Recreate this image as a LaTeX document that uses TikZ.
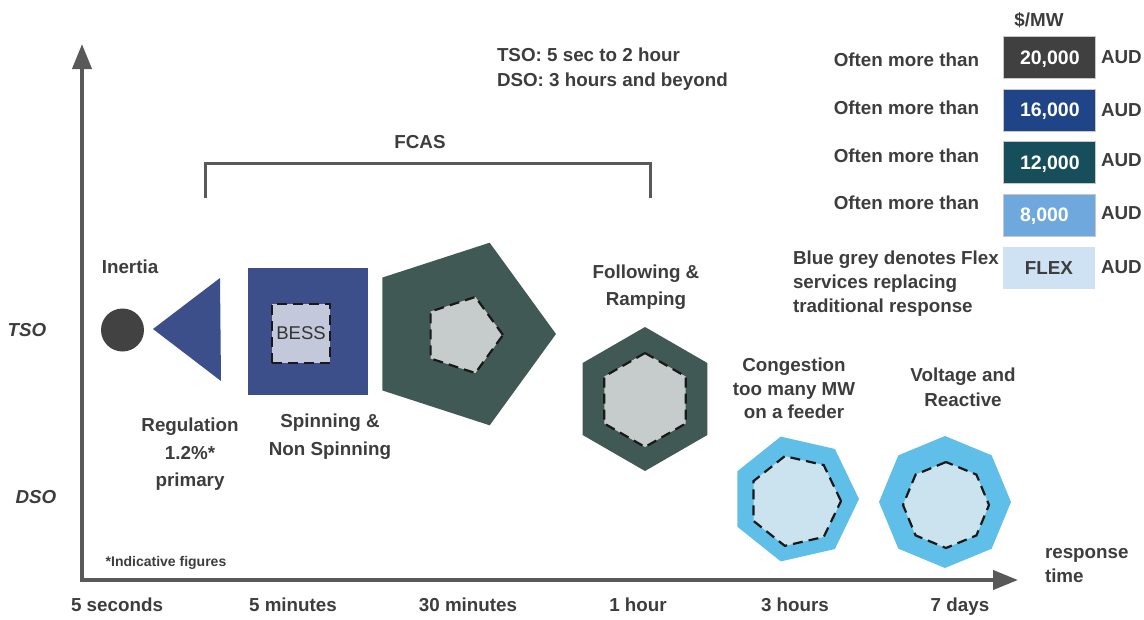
\documentclass[tikz,border=0pt]{standalone}
\usepackage{fontspec}
\setmainfont{Liberation Sans}
\usetikzlibrary{arrows.meta,shapes.geometric}

\definecolor{ink}{HTML}{3D3D3D}
\definecolor{axisgrey}{HTML}{595959}
\definecolor{inertiagrey}{HTML}{424242}
\definecolor{regblue}{HTML}{3D4F8B}
\definecolor{bessfill}{HTML}{C3C8DA}
\definecolor{fcasgreen}{HTML}{415955}
\definecolor{flexgrey}{HTML}{C5CCCB}
\definecolor{dsoblue}{HTML}{5FBFE8}
\definecolor{dsofill}{HTML}{CAE3EE}
\definecolor{priceA}{HTML}{404040}
\definecolor{priceB}{HTML}{1F4488}
\definecolor{priceC}{HTML}{164F5B}
\definecolor{priceD}{HTML}{6FA8DC}
\definecolor{priceE}{HTML}{CFE2F3}

\newcommand\dgmfont{\fontsize{18.8}{24}\selectfont\bfseries}
\newcommand\dgmfontwide{\fontsize{18.8}{27.5}\selectfont\bfseries}
\newcommand\dgmsmall{\fontsize{14}{16}\selectfont\bfseries}

\begin{document}
\begin{tikzpicture}[x=1pt,y=-1pt,
  every node/.style={inner sep=0pt, outer sep=0pt, text=ink, font=\dgmfont},
  lbl/.style={text height=13.3pt, text depth=0pt},
  multi/.style={align=center, anchor=north},
  wide/.style={align=center, anchor=north, font=\dgmfontwide},
  axisline/.style={draw=axisgrey, line width=4pt, line join=miter,
                   >={Triangle[length=25pt, width=19pt]}},
  innerdash/.style={draw=black!90, line width=2.2pt, dash pattern=on 10pt off 6pt},
  pricebox/.style={minimum width=92pt, minimum height=42pt, draw=black!22, line width=0.8pt},
  priceval/.style={lbl, anchor=west, text=white, font=\fontsize{19.5}{24}\selectfont\bfseries},
  aud/.style={lbl, anchor=west},
  often/.style={lbl, anchor=east},
]
\useasboundingbox (0,0) rectangle (1144,619);

% axes
\coordinate (origin) at (82,580);
\coordinate (ytip) at (82,44);
\coordinate (xtip) at (1018,580);
\draw[axisline, <->] (ytip) -- (origin) -- (xtip);

\node[lbl, font=\dgmfont\itshape] (tso) at (27,330) {TSO};
\node[lbl, font=\dgmfont\itshape] (dso) at (36,497) {DSO};

\node[lbl] (t5s)  at (117,605) {5 seconds};
\node[lbl] (t5m)  at (293,605) {5 minutes};
\node[lbl] (t30m) at (468,605) {30 minutes};
\node[lbl] (t1h)  at (638,605) {1 hour};
\node[lbl] (t3h)  at (795,605) {3 hours};
\node[lbl] (t7d)  at (960,605) {7 days};
\node[align=left, anchor=north west] (resp) at (1045,548) {response\\time};
\node[font=\dgmsmall, text height=10pt, text depth=0pt] (note) at (166,561) {*Indicative figures};

% operator time frames
\node[align=left, anchor=north west, font=\fontsize{18.8}{24.5}\selectfont\bfseries] (frames) at (497,48.3)
  {TSO: 5 sec to 2 hour\\DSO: 3 hours and beyond};

% FCAS bracket
\coordinate (fl) at (205,198);
\coordinate (fr) at (650,198);
\draw[draw=axisgrey, line width=3pt] (fl) -- ++(0,-35) -| (fr);
\node[lbl] (fcas) at (420,142) {FCAS};

% inertia
\node[circle, fill=inertiagrey, minimum size=43pt] (inertia) at (122.5,330) {};
\node[lbl] (inertialbl) at (130,267) {Inertia};

% regulation
\fill[regblue] (153,329) -- (220,278) -- (221,381) -- cycle;
\node[wide] (reglbl) at (190,418.3) {Regulation\\1.2\%*\\primary};

% spinning and non spinning
\node[fill=regblue, minimum width=120pt, minimum height=127pt] (spin) at (308,331.5) {};
\node[fill=bessfill, innerdash, minimum width=58pt, minimum height=59pt, text=black!80,
      font=\fontsize{18.5}{22}\selectfont] (bess) at (301,333.5) {BESS};
\node[wide] (spinlbl) at (330,414.3) {Spinning \&\\Non Spinning};

% 30 minute service
\node[regular polygon, regular polygon sides=5, shape border rotate=-90,
      minimum size=192pt, fill=fcasgreen] (pent) at (460,334) {};
\node[regular polygon, regular polygon sides=5, shape border rotate=-90,
      minimum size=80pt, fill=flexgrey, innerdash] (penti) at (463,335) {};

% following and ramping
\node[regular polygon, regular polygon sides=6, shape border rotate=30,
      minimum size=144pt, fill=fcasgreen] (hex) at (645,399) {};
\node[regular polygon, regular polygon sides=6, shape border rotate=30,
      minimum size=94pt, fill=flexgrey, innerdash] (hexi) at (645,400) {};
\node[multi, font=\fontsize{18.8}{27}\selectfont\bfseries] (follbl) at (646,265.3) {Following \&\\Ramping};

% congestion
\node[regular polygon, regular polygon sides=7, shape border rotate=-90,
      minimum size=128pt, fill=dsoblue] (hept) at (795,499) {};
\node[regular polygon, regular polygon sides=7, shape border rotate=-90,
      minimum size=92pt, fill=dsofill, innerdash] (hepti) at (795,501) {};
\node[multi, font=\fontsize{18.8}{23.5}\selectfont\bfseries] (conglbl) at (794,358.3)
  {Congestion\\too many MW\\on a feeder};

% voltage and reactive
\node[regular polygon, regular polygon sides=8, shape border rotate=22.5,
      minimum size=132pt, fill=dsoblue] (oct) at (945,502) {};
\node[regular polygon, regular polygon sides=8, shape border rotate=22.5,
      minimum size=86pt, fill=dsofill, innerdash] (octi) at (946,505) {};
\node[multi, font=\fontsize{18.8}{25}\selectfont\bfseries] (voltlbl) at (963,368.3)
  {Voltage and\\Reactive};

% price legend
\node[lbl, font=\dgmfont] (unit) at (1039,20) {\$/MW};
\node[pricebox, fill=priceA] (pA) at (1049,57.5) {};
\node[pricebox, fill=priceB] (pB) at (1049,110) {};
\node[pricebox, fill=priceC] (pC) at (1049,162.5) {};
\node[pricebox, fill=priceD] (pD) at (1049,215) {};
\node[pricebox, fill=priceE, draw=none] (pE) at (1049,267.5) {};

\node[priceval] (vA) at (1020,57.5) {20,000};
\node[priceval] (vB) at (1020,110) {16,000};
\node[priceval] (vC) at (1020,162.5) {12,000};
\node[priceval] (vD) at (1020,215) {8,000};
\node[lbl] (vE) at (pE) {FLEX};

\node[aud] (aA) at (1101,57) {AUD};
\node[aud] (aB) at (1101,110) {AUD};
\node[aud] (aC) at (1101,160) {AUD};
\node[aud] (aD) at (1101,213) {AUD};
\node[aud] (aE) at (1101,267) {AUD};

\node[often] (oA) at (979,60) {Often more than};
\node[often] (oB) at (979,108) {Often more than};
\node[often] (oC) at (979,156) {Often more than};
\node[often] (oD) at (979,203) {Often more than};
\node[align=left, anchor=north west] (flexnote) at (793,251.3)
  {Blue grey denotes Flex\\services replacing\\traditional response};
\end{tikzpicture}
\end{document}
